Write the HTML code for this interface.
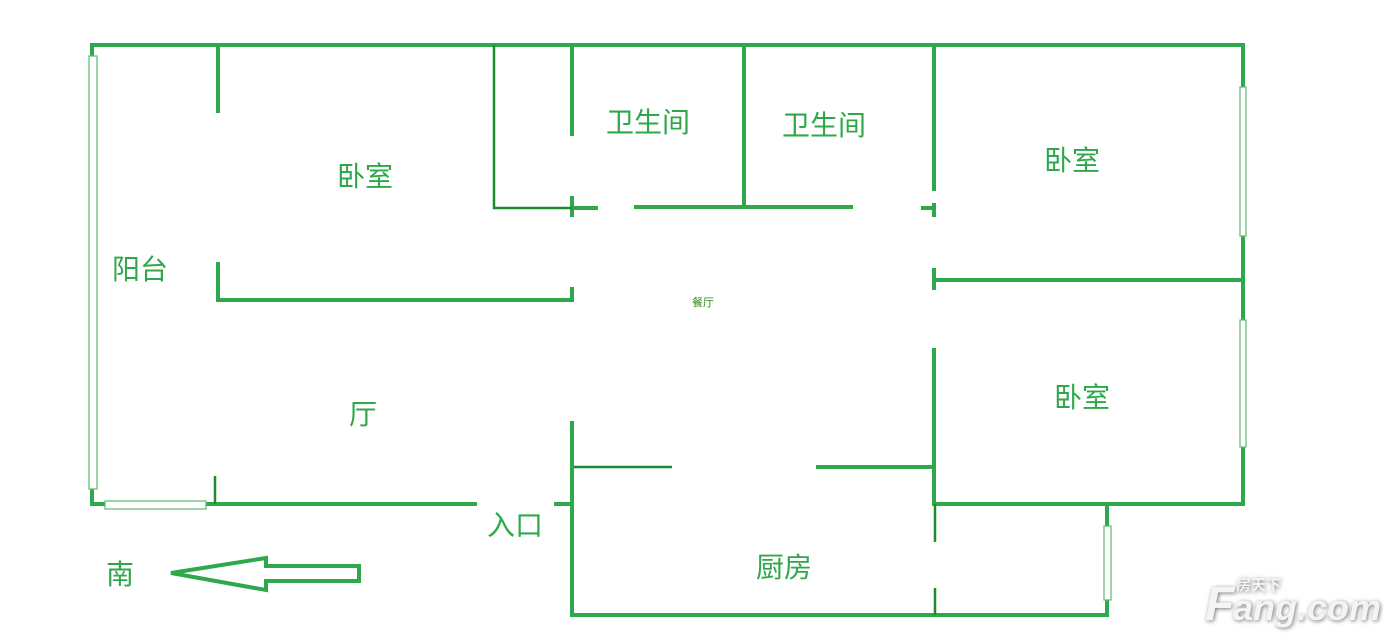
<!DOCTYPE html>
<html><head><meta charset="utf-8"><style>
html,body{margin:0;padding:0;background:#fff;width:1400px;height:643px;overflow:hidden}
svg{display:block}
text{font-family:"Liberation Sans","Noto Sans CJK SC",sans-serif;fill:#2ea84a}
</style></head><body>
<svg width="1400" height="643" viewBox="0 0 1400 643" xmlns="http://www.w3.org/2000/svg">
<g stroke="#2ea84a" stroke-width="4" fill="none" stroke-linecap="square">
<line x1="92" y1="45" x2="1243" y2="45"/>
<line x1="92" y1="45" x2="92" y2="56"/>
<polyline points="92,489 92,504 104,504"/>
<line x1="206" y1="504" x2="475" y2="504"/>
<line x1="218" y1="45" x2="218" y2="111"/>
<polyline points="218,264 218,300 572,300 572,289"/>
<line x1="572" y1="45" x2="572" y2="134"/>
<line x1="572" y1="198" x2="572" y2="215"/>
<line x1="572" y1="208" x2="596" y2="208"/>
<line x1="636" y1="207" x2="851" y2="207"/>
<line x1="744" y1="45" x2="744" y2="207"/>
<line x1="923" y1="208" x2="934" y2="208"/>
<line x1="934" y1="45" x2="934" y2="189"/>
<line x1="934" y1="205" x2="934" y2="215"/>
<line x1="934" y1="280" x2="1243" y2="280"/>
<line x1="934" y1="270" x2="934" y2="288"/>
<line x1="1243" y1="45" x2="1243" y2="87"/>
<line x1="1243" y1="236" x2="1243" y2="320"/>
<line x1="1243" y1="447" x2="1243" y2="504"/>
<line x1="934" y1="504" x2="1243" y2="504"/>
<line x1="934" y1="350" x2="934" y2="504"/>
<line x1="572" y1="423" x2="572" y2="615"/>
<line x1="556" y1="504" x2="572" y2="504"/>
<line x1="572" y1="615" x2="1107" y2="615"/>
<line x1="1107" y1="504" x2="1107" y2="526"/>
<line x1="1107" y1="600" x2="1107" y2="615"/>
<line x1="818" y1="467" x2="934" y2="467"/>
</g>
<g stroke="#1f8a2e" stroke-width="2.5" fill="none">
<polyline points="494,45 494,208 572,208"/>
<line x1="215" y1="476" x2="215" y2="504"/>
<line x1="574" y1="467" x2="672" y2="467"/>
<line x1="935" y1="504" x2="935" y2="542"/>
<line x1="935" y1="588" x2="935" y2="615"/>
</g>
<g stroke="#5fb873" stroke-width="1.2" fill="#fff">
<rect x="89" y="56" width="8" height="433"/>
<rect x="105" y="501" width="101" height="8"/>
<rect x="1240" y="87" width="6" height="149"/>
<rect x="1240" y="320" width="6" height="127"/>
<rect x="1104" y="526" width="7" height="74"/>
</g>
<polygon points="171,573 266,558 266,566 359,566 359,581 266,581 266,590" fill="none" stroke="#2ea84a" stroke-width="4" stroke-linejoin="miter"/>
<g font-size="28" text-anchor="middle">
<text x="365" y="186">卧室</text>
<text x="648" y="132">卫生间</text>
<text x="824" y="135">卫生间</text>
<text x="1072" y="170">卧室</text>
<text x="140" y="279">阳台</text>
<text x="363" y="424">厅</text>
<text x="1082" y="407">卧室</text>
<text x="515" y="535">入口</text>
<text x="784" y="577">厨房</text>
<text x="120" y="584">南</text>
</g>
<text x="703" y="306" font-size="11" text-anchor="middle" style="fill:#3a8a1e">餐厅</text>
<g style="filter:drop-shadow(1px 1px 2px #777)">
<text x="1205" y="620" font-size="48" font-weight="bold" font-style="italic" style="fill:#f4f4f4;font-family:'Liberation Sans',sans-serif">F</text>
<text x="1233" y="620" font-size="36" font-weight="bold" font-style="italic" style="fill:#f4f4f4;font-family:'Liberation Sans',sans-serif">ang.com</text>
<text x="1236" y="590" font-size="15" font-weight="bold" style="fill:#f4f4f4">房天下</text>
</g>
</svg>
</body></html>
